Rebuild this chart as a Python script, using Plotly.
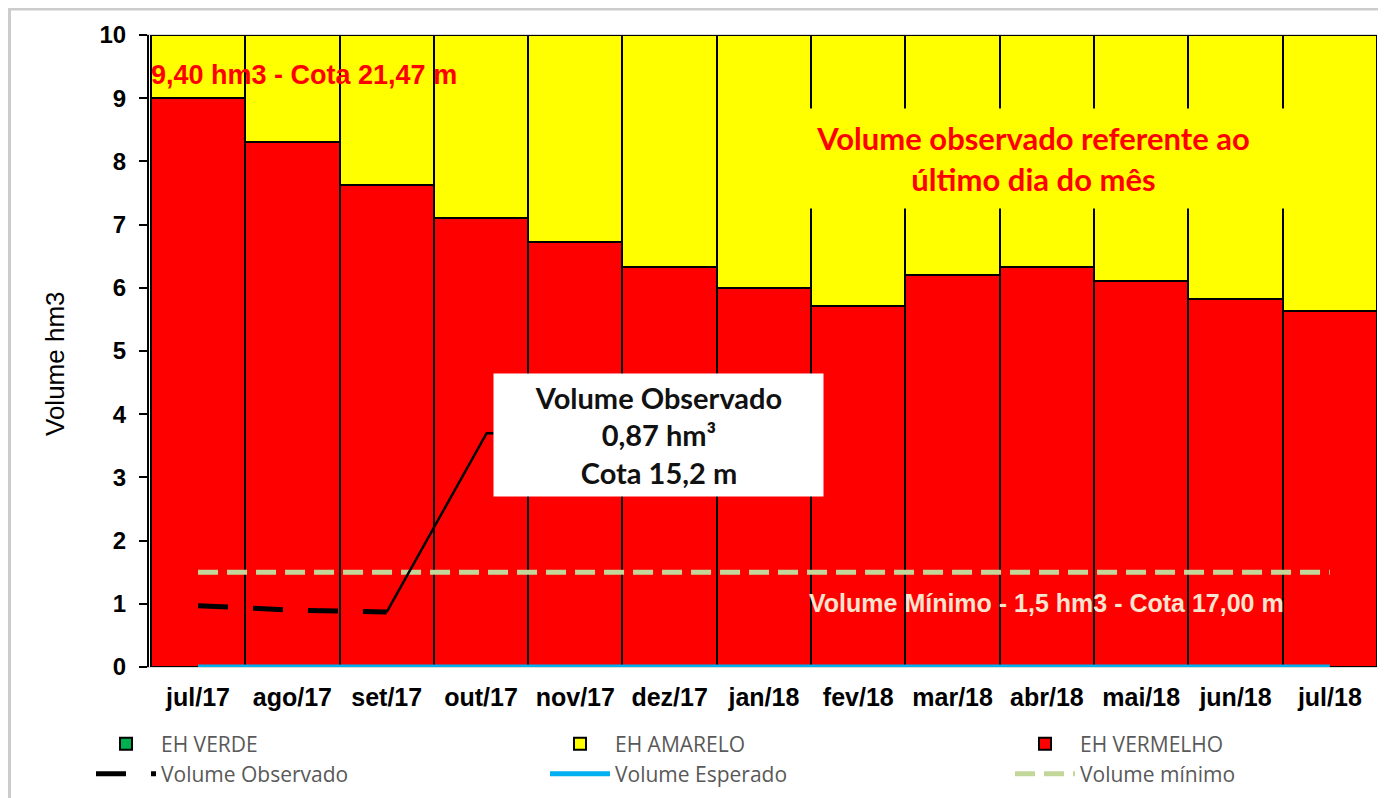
import plotly.graph_objects as go

months = ["jul/17", "ago/17", "set/17", "out/17", "nov/17", "dez/17", "jan/18",
          "fev/18", "mar/18", "abr/18", "mai/18", "jun/18", "jul/18"]
eh_verde = [0] * 13
eh_vermelho = [9.0, 8.3, 7.63, 7.1, 6.72, 6.33, 6.0, 5.72, 6.21, 6.33, 6.1, 5.83, 5.63]
eh_amarelo = [1.0, 1.7, 2.37, 2.9, 3.28, 3.67, 4.0, 4.28, 3.79, 3.67, 3.9, 4.17, 4.37]
vol_observado = [0.97, 0.90, 0.87, None, None, None, None, None, None, None, None, None, None]
vol_esperado = [0] * 13
vol_minimo = [1.5] * 13

ARIAL = "Liberation Sans, Arial, sans-serif"
CAL = "Open Sans, Lato, sans-serif"

W, H = 1386, 798
ML, MR, MT, MB = 141, 17, 27, 139
PW, PH = W - ML - MR, H - MT - MB

fig = go.Figure()
fig.add_trace(go.Bar(x=months, y=eh_verde, name="EH VERDE", legend="legend",
                     marker=dict(color="#00b050", line=dict(color="black", width=2))))
fig.add_trace(go.Bar(x=months, y=eh_vermelho, name="EH VERMELHO", legend="legend3",
                     marker=dict(color="#ff0000", line=dict(color="black", width=2))))
fig.add_trace(go.Bar(x=months, y=eh_amarelo, name="EH AMARELO", legend="legend2",
                     marker=dict(color="#ffff00", line=dict(color="black", width=2))))
fig.add_trace(go.Scatter(x=months, y=vol_observado, name="Volume Observado", mode="lines", legend="legend4",
                         line=dict(color="black", width=5, dash="30px,25px")))
fig.add_trace(go.Scatter(x=months, y=vol_esperado, name="Volume Esperado", mode="lines", legend="legend5",
                         line=dict(color="#00b0f0", width=5), cliponaxis=False))
fig.add_trace(go.Scatter(x=months, y=vol_minimo, name="Volume mínimo", mode="lines", legend="legend6",
                         line=dict(color="#c4d79b", width=5, dash="20px,9px")))

annotations = [
    dict(x=-0.52, y=9.37, xref="x", yref="y", text="<b>9,40 hm3 - Cota 21,47 m</b>", showarrow=False,
         xanchor="left", yanchor="middle", font=dict(family=ARIAL, size=27, color="#ff0000")),
    dict(x=8.85, y=8.05, xref="x", yref="y",
         text="<b>Volume observado referente ao<br>último dia do mês</b>", showarrow=False,
         xanchor="center", yanchor="middle", bgcolor="#ffff00", width=560, height=97,
         font=dict(family="Lato, sans-serif", size=31, color="#ff0000")),
    dict(x=9.0, y=1.01, xref="x", yref="y", text="<b>Volume Mínimo - 1,5 hm3 - Cota 17,00 m</b>",
         showarrow=False, xanchor="center", yanchor="middle",
         font=dict(family=ARIAL, size=25, color="#f8e4cf")),
    dict(x=4.88, y=3.67, xref="x", yref="y",
         text="<b>Volume Observado<br>0,87 hm³<br>Cota 15,2 m</b>", showarrow=False,
         xanchor="center", yanchor="middle", bgcolor="white", width=327, height=120,
         font=dict(family="Lato, sans-serif", size=29, color="#111111")),
    dict(x=(47 - ML) / PW, y=(H - MB - 355) / PH, xref="paper", yref="paper", text="Volume hm3",
         showarrow=False, textangle=-90, xanchor="center", yanchor="middle",
         font=dict(family=ARIAL, size=26, color="black")),
]

shapes = [
    dict(type="path", xref="x", yref="y", path="M 2,0.87 L 3.06,3.7 L 3.15,3.7",
         line=dict(color="black", width=2.5)),
    dict(type="rect", xref="paper", yref="paper", x0=(1.5 - ML) / PW, x1=1.1, y0=-0.5,
         y1=(H - MB - 1) / PH,
         line=dict(color="#cccccc", width=3), layer="above"),
]

leg_common = dict(orientation="v", xanchor="left", yanchor="middle", xref="container", yref="container",
                  font=dict(family=CAL, size=21, color="#595959"), itemwidth=60,
                  tracegroupgap=0, bgcolor="rgba(0,0,0,0)", traceorder="normal")
ROW1 = (H - 736) / H
ROW2 = (H - 766) / H
COLS = [83 / W, 537 / W, 1002 / W]

fig.update_layout(
    width=W, height=H,
    margin=dict(l=ML, r=MR, t=MT, b=MB, autoexpand=False),
    barmode="stack", bargap=0,
    plot_bgcolor="white", paper_bgcolor="white",
    showlegend=True,
    legend=dict(x=COLS[0], y=ROW1, **leg_common),
    legend2=dict(x=COLS[1], y=ROW1, **leg_common),
    legend3=dict(x=COLS[2], y=ROW1, **leg_common),
    legend4=dict(x=COLS[0], y=ROW2, **leg_common),
    legend5=dict(x=COLS[1], y=ROW2, **leg_common),
    legend6=dict(x=COLS[2], y=ROW2, **leg_common),
    annotations=annotations,
    shapes=shapes,
    xaxis=dict(type="category", categoryorder="array", categoryarray=months,
               showline=True, linecolor="#d9d9d9", linewidth=1, mirror=True,
               ticks="", showgrid=False, ticklabelstandoff=8,
               tickfont=dict(family=ARIAL, size=25, color="black", weight="bold")),
    yaxis=dict(range=[0, 10], dtick=1, showline=True, linecolor="black", linewidth=2,
               ticks="outside", ticklen=8, tickwidth=2, tickcolor="black", showgrid=False,
               zeroline=False, ticklabelstandoff=8,
               tickfont=dict(family=ARIAL, size=24, color="black", weight="bold")),
)

fig.write_html("out.html")
